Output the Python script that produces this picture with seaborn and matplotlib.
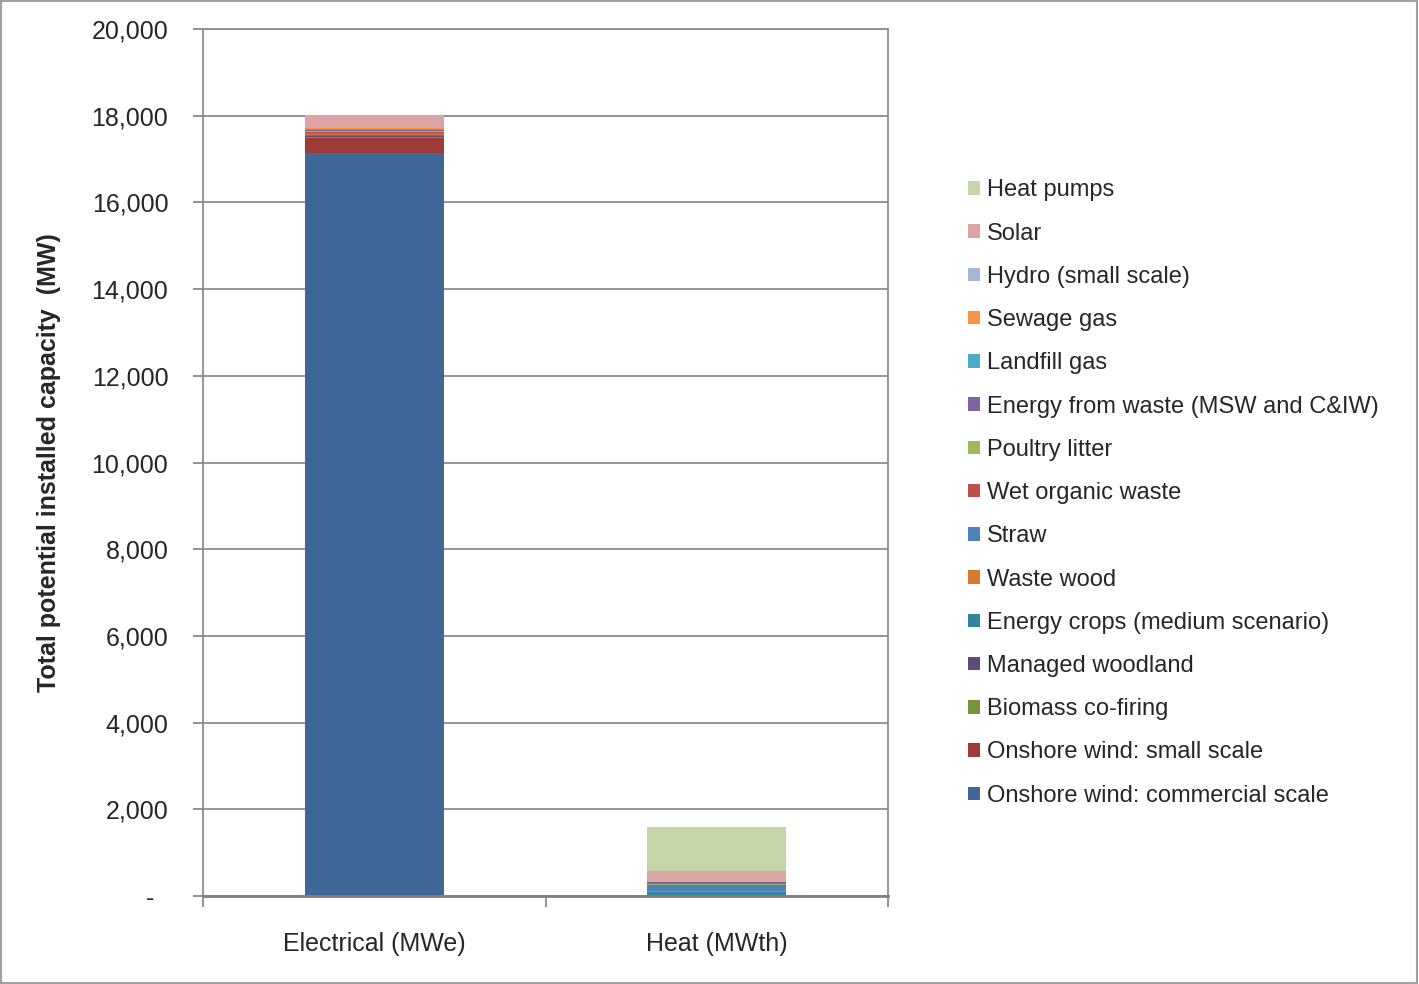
import numpy as np
import pandas as pd
import matplotlib
matplotlib.use("Agg")
import matplotlib.pyplot as plt
import seaborn as sns
from matplotlib.patches import Rectangle
from matplotlib.ticker import FuncFormatter

categories = ["Electrical (MWe)", "Heat (MWth)"]

# series listed bottom -> top of the stack
series_names = [
    "Onshore wind: commercial scale",
    "Onshore wind: small scale",
    "Biomass co-firing",
    "Managed woodland",
    "Energy crops (medium scenario)",
    "Waste wood",
    "Straw",
    "Wet organic waste",
    "Poultry litter",
    "Energy from waste (MSW and C&IW)",
    "Landfill gas",
    "Sewage gas",
    "Hydro (small scale)",
    "Solar",
    "Heat pumps",
]
electrical = [17140, 350, 20, 20, 30, 10, 40, 20, 20, 20, 30, 10, 10, 290, 0]
heat = [0, 0, 0, 30, 60, 20, 120, 20, 30, 40, 0, 0, 0, 250, 1020]

colors = [
    "#3F6898", "#9E3B38", "#77933C", "#604A7B", "#31859C", "#D9792D",
    "#4F81BD", "#C0504D", "#9BBB59", "#8064A2", "#4BACC6", "#F79646",
    "#A5B6D8", "#DAA5A4", "#C4D6A8",
]

yticks = [0, 2000, 4000, 6000, 8000, 10000, 12000, 14000, 16000, 18000, 20000]

sns.set_style("white")
plt.rcParams["font.family"] = ["Liberation Sans", "DejaVu Sans"]

fig = plt.figure(figsize=(14.19, 9.84), dpi=100)
ax = fig.add_axes([203 / 1419, 1 - 896 / 984, (888 - 203) / 1419, (896 - 29) / 984])

bottom = np.zeros(len(categories))
for name, e, h, c in zip(series_names, electrical, heat, colors):
    vals = np.array([e, h], dtype=float)
    sns.barplot(x=categories, y=vals, bottom=bottom, color=c, width=0.405,
                ax=ax, label=name, edgecolor="none", linewidth=0, saturation=1)
    bottom = bottom + vals

if ax.get_legend() is not None:
    ax.get_legend().remove()

ax.set_xlim(-0.5, 1.5)
ax.set_ylim(0, 20000)
ax.set_yticks(yticks)
ax.yaxis.set_major_formatter(FuncFormatter(lambda v, p: "-  " if v == 0 else f"{int(v):,}"))
ax.tick_params(axis="y", labelsize=18, length=7, width=1.2, color="#808080",
               pad=18, direction="out", left=True)
ax.grid(axis="y", color="#8C8C8C", linewidth=1.3)
ax.set_axisbelow(True)

ax.set_xticks([0, 1])
ax.set_xticklabels(categories)
ax.tick_params(axis="x", which="major", labelsize=18, length=0, pad=26)
ax.set_xticks([-0.5, 0.5, 1.5], minor=True)
ax.tick_params(axis="x", which="minor", length=8, width=1.2, color="#808080",
               direction="out", bottom=True)
ax.set_xlabel("")
ax.set_ylabel("Total potential installed capacity  (MW)", fontsize=18,
              fontweight="bold", labelpad=22)

for s in ["left", "right", "top", "bottom"]:
    ax.spines[s].set_visible(True)
    ax.spines[s].set_color("#8C8C8C")
    ax.spines[s].set_linewidth(1.3)
ax.spines["bottom"].set_color("#808080")
ax.spines["bottom"].set_linewidth(2)

handles, labels = ax.get_legend_handles_labels()
leg = fig.legend(handles[::-1], labels[::-1], loc="center left",
                 bbox_to_anchor=(968 / 1419, 1 - 493 / 984), frameon=False,
                 fontsize=17, handlelength=0.5, handleheight=0.5,
                 handletextpad=0.3, labelspacing=0.9, borderpad=0,
                 borderaxespad=0)

fig.patches.append(Rectangle((0.0005, 0.0008), 0.998, 0.998, transform=fig.transFigure,
                             fill=False, edgecolor="#A0A0A0", linewidth=1.5))

fig.savefig("out.png", dpi=100)
